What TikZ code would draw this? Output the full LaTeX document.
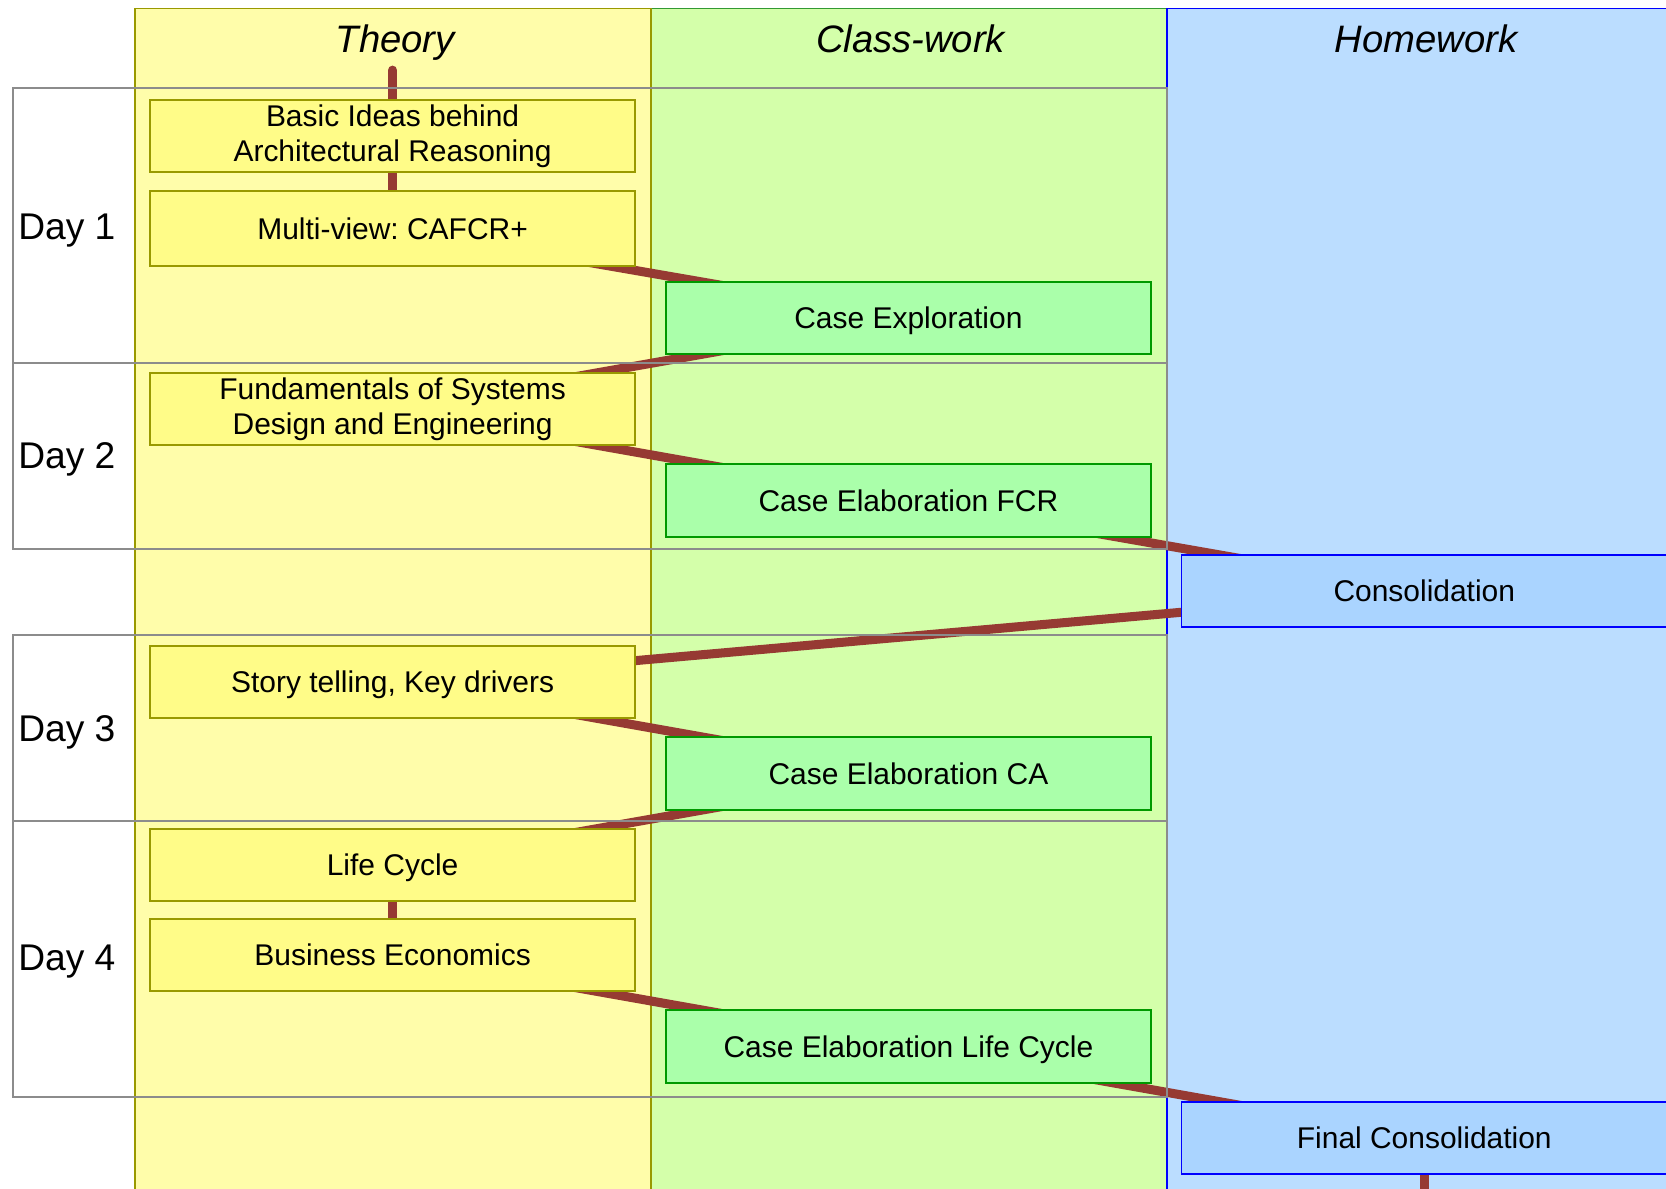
\documentclass[tikz,border=0pt]{standalone}
\usepackage{fontspec}
\setmainfont{Liberation Sans}
\frenchspacing
\definecolor{theoryfill}{HTML}{FFFDAA}
\definecolor{theorybox}{HTML}{FFFC88}
\definecolor{olivebd}{HTML}{999900}
\definecolor{classfill}{HTML}{D4FFAA}
\definecolor{classbd}{HTML}{339933}
\definecolor{greenbox}{HTML}{AAFFAA}
\definecolor{greenbd}{HTML}{009900}
\definecolor{homefill}{HTML}{BBDDFF}
\definecolor{bluebox}{HTML}{AAD4FF}
\definecolor{bluebd}{HTML}{0000FF}
\definecolor{flow}{HTML}{963A33}
\definecolor{daygray}{HTML}{8C8C8C}
\newcommand\boxfont{\fontsize{28.2}{33}\selectfont}
\newcommand\dayfont{\fontsize{35}{40}\selectfont}
\newcommand\headfont{\fontsize{36}{42}\selectfont\itshape}
\pgfdeclarelayer{back}
\pgfdeclarelayer{mid}
\pgfsetlayers{back,mid,main}
\begin{document}
\begin{tikzpicture}[x=1pt,y=-1pt,
  column/.style={line width=1.8pt},
  card/.style={line width=1.8pt, minimum height=68pt, inner sep=0pt,
    align=center, font=\boxfont},
  oneline/.style={text height=20.2pt, text depth=0pt},
  theorycard/.style={card, draw=olivebd, fill=theorybox, minimum width=457pt},
  classcard/.style={card, oneline, draw=greenbd, fill=greenbox, minimum width=456pt},
  homecard/.style={card, oneline, draw=bluebd, fill=bluebox, minimum width=457pt},
  conn/.style={draw=flow, line width=8.5pt},
  dayrow/.style={draw=daygray, line width=1.9pt},
  daylabel/.style={anchor=base west, inner sep=0pt, font=\dayfont},
  header/.style={anchor=base, inner sep=0pt, font=\headfont}]
\useasboundingbox (0,0) rectangle (1568,1119);

% columns
\begin{pgfonlayer}{back}
  \fill[white] (0,0) rectangle (1568,1119);
  \draw[column, draw=classbd, fill=classfill] (613,8) rectangle (1098,1140);
  \draw[column, draw=olivebd, fill=theoryfill] (127,8) rectangle (613,1140);
  \draw[column, draw=bluebd, fill=homefill] (1098,8) rectangle (1620,1140);
\end{pgfonlayer}

\node[header] (hTheory) at (372,49) {Theory};
\node[header] (hClass) at (857,49) {Class-work};
\node[header] (hHome) at (1342,49) {Homework};

% theory cards
\node[theorycard] (basic) at (369.5,128) {Basic Ideas behind\\Architectural Reasoning};
\node[theorycard, oneline, minimum height=70pt] (multi) at (369.5,215) {Multi-view: CAFCR+};
\node[theorycard] (fund) at (369.5,385) {Fundamentals of Systems\\Design and Engineering};
\node[theorycard, oneline] (story) at (369.5,642) {Story telling, Key drivers};
\node[theorycard, oneline] (life) at (369.5,814) {Life Cycle};
\node[theorycard, oneline] (biz) at (369.5,899) {Business Economics};

% class-work cards
\node[classcard] (expl) at (855,299) {Case Exploration};
\node[classcard] (fcr) at (855,471) {Case Elaboration FCR};
\node[classcard] (ca) at (855,728) {Case Elaboration CA};
\node[classcard] (lc) at (855,985) {Case Elaboration Life Cycle};

% homework cards
\node[homecard] (cons) at (1340.5,556) {Consolidation};
\node[homecard] (final) at (1340.5,1071) {Final Consolidation};

\coordinate (start) at (369.5,66);
\coordinate (finish) at (1340.5,1140);

\begin{pgfonlayer}{mid}
  \draw[conn, line cap=round] (start) -- (basic.center);
  \draw[conn] (basic.center) -- (multi.center);
  \draw[conn] (multi.center) -- (expl.center);
  \draw[conn] (expl.center) -- (fund.center);
  \draw[conn] (fund.center) -- (fcr.center);
  \draw[conn] (fcr.center) -- (cons.center);
  \draw[conn] (cons.center) -- (story.center);
  \draw[conn] (story.center) -- (ca.center);
  \draw[conn] (ca.center) -- (life.center);
  \draw[conn] (life.center) -- (biz.center);
  \draw[conn] (biz.center) -- (lc.center);
  \draw[conn] (lc.center) -- (final.center);
  \draw[conn] (final.center) -- (finish);
  % day rows
  \draw[dayrow] (12,83) rectangle (1098,342);
  \draw[dayrow] (12,342) rectangle (1098,517);
  \draw[dayrow] (12,598) rectangle (1098,773);
  \draw[dayrow] (12,773) rectangle (1098,1032);
\end{pgfonlayer}

\node[daylabel] (d1) at (17,225) {Day 1};
\node[daylabel] (d2) at (17,441) {Day 2};
\node[daylabel] (d3) at (17,698) {Day 3};
\node[daylabel] (d4) at (17,913) {Day 4};
\end{tikzpicture}
\end{document}
